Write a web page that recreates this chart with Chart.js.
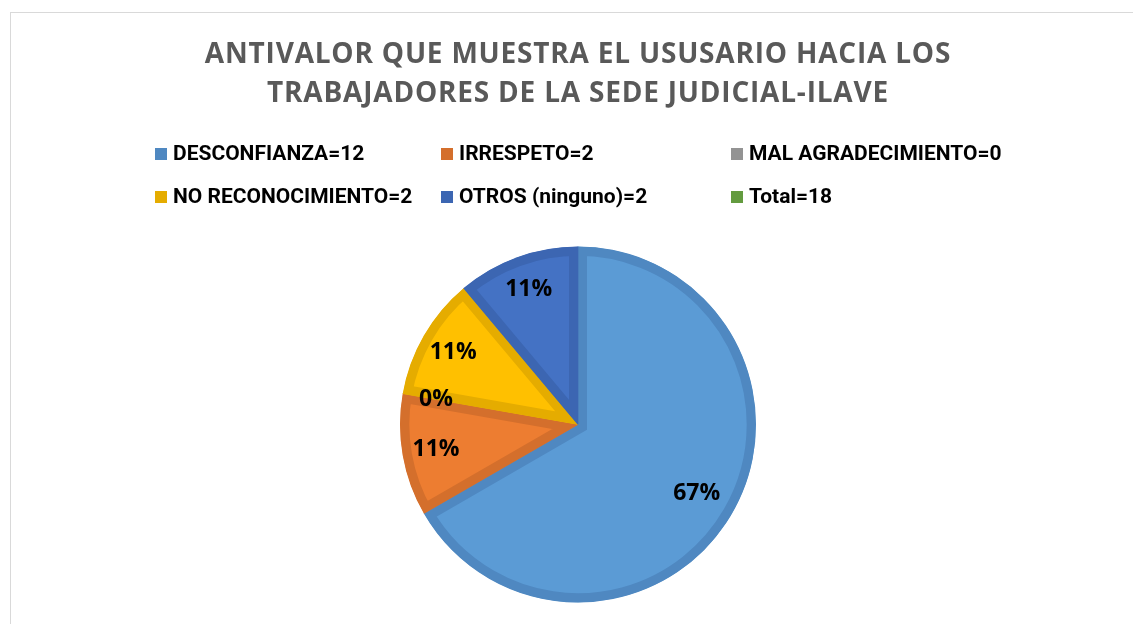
<!DOCTYPE html>
<html>
<head>
<meta charset="utf-8">
<script src="https://cdn.jsdelivr.net/npm/chart.js@4"></script>
<style>
    body { margin: 0; background: #fff; overflow: hidden; }
    #frame {
        position: absolute; left: 10px; top: 12px;
        width: 1134px; height: 640px;
        border: 1px solid #d9d9d9; background: #fff;
    }
</style>
</head>
<body>
<div id="frame"><canvas id="pieChart" width="1134" height="640"></canvas></div>
<script>
// Chart data
const titleLines = ['ANTIVALOR QUE MUESTRA EL USUSARIO HACIA LOS', 'TRABAJADORES DE LA SEDE JUDICIAL-ILAVE'];
const categories = ['DESCONFIANZA=12', 'IRRESPETO=2', 'MAL AGRADECIMIENTO=0', 'NO RECONOCIMIENTO=2', 'OTROS (ninguno)=2', 'Total=18'];
const counts = [12, 2, 0, 2, 2, null];
const fillColors = ['#5b9bd5', '#ed7d31', '#a5a5a5', '#ffc000', '#4472c4', '#70ad47'];
const edgeColors = ['#4f88c1', '#d46f2c', '#939393', '#e5ac00', '#3c66b2', '#639b3f'];

const countsTotal = counts.reduce((s, v) => s + (v || 0), 0);

// Percent labels inside the slices
const sliceLabels = {
    id: 'sliceLabels',
    afterDatasetsDraw(chart) {
        const ctx = chart.ctx;
        const arcs = chart.getDatasetMeta(0).data;
        ctx.save();
        ctx.font = 'bold 23px "Open Sans"';
        ctx.fillStyle = '#000';
        ctx.textAlign = 'center';
        ctx.textBaseline = 'middle';
        arcs.forEach((arc, i) => {
            if (counts[i] === null) return;
            const mid = (arc.startAngle + arc.endAngle) / 2;
            const r = arc.outerRadius * (counts[i] > 6 ? 0.77 : 0.81);
            const pct = Math.round(counts[i] / countsTotal * 100) + '%';
            ctx.fillText(pct, arc.x + Math.cos(mid) * r, arc.y + Math.sin(mid) * r);
        });
        ctx.restore();
    }
};

// Legend in a 3 column grid, like the spreadsheet one
const gridLegend = {
    id: 'gridLegend',
    afterDraw(chart) {
        const ctx = chart.ctx;
        const colX = [144, 430, 720];
        const rowY = [141, 184];
        ctx.save();
        ctx.font = 'bold 21px "Roboto"';
        ctx.textBaseline = 'middle';
        categories.forEach((name, i) => {
            const x = colX[i % 3];
            const y = rowY[Math.floor(i / 3)];
            ctx.fillStyle = edgeColors[i];
            ctx.fillRect(x, y - 6, 12, 12);
            ctx.fillStyle = '#000';
            ctx.fillText(name, x + 18, y + 1);
        });
        ctx.restore();
    }
};

const titleSpacing = {
    id: 'titleSpacing',
    beforeDraw(chart) { chart.ctx.letterSpacing = '0.8px'; },
    beforeDatasetsDraw(chart) { chart.ctx.letterSpacing = '0px'; }
};

const ctx = document.getElementById('pieChart').getContext('2d');
new Chart(ctx, {
    type: 'pie',
    data: {
        labels: categories,
        datasets: [{
            data: counts,
            backgroundColor: fillColors,
            borderColor: edgeColors,
            borderWidth: 9,
            borderAlign: 'inner',
            borderJoinStyle: 'miter',
            radius: 178
        }]
    },
    options: {
        responsive: false,
        animation: false,
        layout: { padding: { top: 0, bottom: 48, left: 0, right: 0 } },
        plugins: {
            legend: { display: false },
            tooltip: { enabled: false },
            title: {
                display: true,
                text: titleLines,
                color: '#595959',
                font: { family: '"Open Sans"', size: 28, weight: 'bold', lineHeight: 1.4 },
                padding: { top: 22, bottom: 130.6 }
            }
        }
    },
    plugins: [titleSpacing, sliceLabels, gridLegend]
});
</script>
</body>
</html>
